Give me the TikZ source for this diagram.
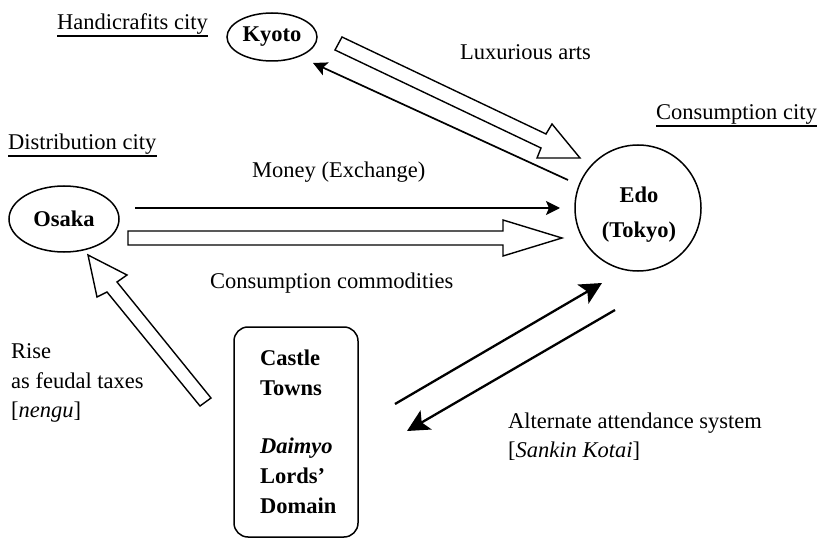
\documentclass[tikz,border=0pt]{standalone}
\usepackage{fontspec}
\setmainfont{Liberation Serif}
\usetikzlibrary{shapes.geometric,arrows.meta}
\begin{document}
\begin{tikzpicture}[x=1pt,y=-1pt,
  txt/.style={inner sep=0pt, font=\fontsize{22.5}{29.5}\selectfont, anchor=base west},
  btxt/.style={txt, font=\fontsize{22.5}{29.5}\selectfont\bfseries},
  city/.style={draw, line width=1.5pt, ellipse, inner sep=0pt, font=\fontsize{22.5}{29.5}\selectfont\bfseries},
  blockarrow/.style={draw, line width=1.4pt, fill=white, line join=miter},
  thinarrow/.style={line width=1.7pt, -{Stealth[length=14pt,width=14pt,inset=3pt]}},
  thickarrow/.style={line width=2.3pt, -{Stealth[length=22pt,width=22pt,inset=5pt]}},
  uline/.style={line width=1.4pt},
]
\fill[white] (0,0) rectangle (822,540);
\useasboundingbox (0,0) rectangle (822,540);

% cities
\node[city, minimum width=90pt, minimum height=48pt] (kyoto) at (272,37) {Kyoto};
\node[city, minimum width=110pt, minimum height=66pt] (osaka) at (64,219) {Osaka};
\node[draw, circle, line width=1.5pt, minimum size=126pt, inner sep=0pt] (edo) at (638,208) {};
\node[btxt, anchor=base] (edo1) at (639,203) {Edo};
\node[btxt, anchor=base] (edo2) at (639,238) {(Tokyo)};

% castle towns box
\node[draw, line width=1.5pt, rounded corners=14pt, minimum width=124pt, minimum height=210pt] (castle) at (296,432) {};
\node[btxt] (c1) at (260,365) {Castle};
\node[btxt] (c2) at (260,395) {Towns};
\node[btxt] (c3) at (260,453) {\itshape Daimyo};
\node[btxt] (c4) at (260,483) {Lords'};
\node[btxt] (c5) at (260,513) {Domain};

% labels
\node[txt] (hc) at (57,30) {Handicrafits city};
\node[txt] (cc) at (656,120) {Consumption city};
\node[txt] (dc) at (8,150) {Distribution city};
\draw[uline] ([yshift=-6pt]hc.base west) -- ([yshift=-6pt]hc.base east);
\draw[uline] ([yshift=-6pt]cc.base west) -- ([yshift=-6pt]cc.base east);
\draw[uline] ([yshift=-6pt]dc.base west) -- ([yshift=-6pt]dc.base east);
\node[txt] (lux) at (460,60) {Luxurious arts};
\node[txt] (money) at (252,178) {Money (Exchange)};
\node[txt] (comm) at (210,288) {Consumption commodities};
\node[txt] (r1) at (11,358) {Rise};
\node[txt] (r2) at (11,388) {as feudal taxes};
\node[txt] (r3) at (11,417) {[\textit{nengu}]};
\node[txt] (a1) at (508,428) {Alternate attendance system};
\node[txt] (a2) at (508,457) {[\textit{Sankin Kotai}]};

% connector end points
\coordinate (kA) at (568,180);
\coordinate (kB) at (313,63);
\coordinate (mA) at (135,208);
\coordinate (mB) at (560,208);
\coordinate (sA) at (395,404);
\coordinate (sB) at (602,283);
\coordinate (tA) at (615,310);
\coordinate (tB) at (407,431);

% hollow block arrows
\draw[blockarrow] (335,50) -- (342,37) -- (546,134) -- (552,124) -- (580,158) -- (537,158) -- (541,148) -- cycle;
\draw[blockarrow] (128,231) -- (503,231) -- (503,220) -- (562,238) -- (503,256) -- (503,245) -- (128,245) -- cycle;
\draw[blockarrow] (200,406) -- (107,292) -- (97,297) -- (88,255) -- (127,275) -- (117,282) -- (211,398) -- cycle;

% line arrows
\draw[thinarrow] (kA) -- (kB);
\draw[thinarrow] (mA) -- (mB);
\draw[thickarrow] (sA) -- (sB);
\draw[thickarrow] (tA) -- (tB);
\end{tikzpicture}
\end{document}
